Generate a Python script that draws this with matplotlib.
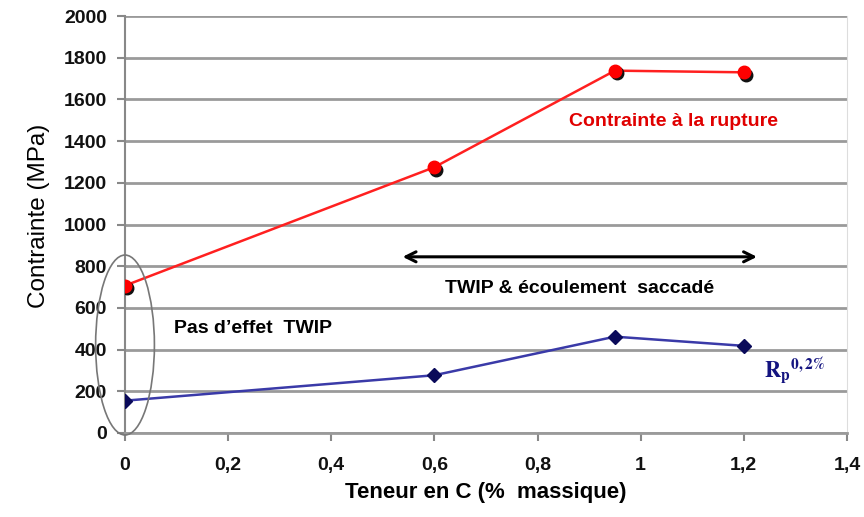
import matplotlib
matplotlib.use("Agg")
import matplotlib.pyplot as plt
from matplotlib.patches import Ellipse
import matplotlib.ticker as mticker

plt.rcParams['font.family'] = ['Liberation Sans', 'DejaVu Sans']

carbon = [0, 0.6, 0.95, 1.2]
rupture = [707, 1275, 1738, 1730]
rp02 = [155, 277, 462, 418]
xticks = [0, 0.2, 0.4, 0.6, 0.8, 1.0, 1.2, 1.4]
yticks = list(range(0, 2001, 200))

fig = plt.figure(figsize=(8.64, 5.17), dpi=100)
ax = fig.add_axes([0.1447, 0.1625, 0.8355, 0.8065])

ax.set_xlim(0, 1.4)
ax.set_ylim(0, 2000)
ax.set_yticks(yticks)
ax.set_xticks(xticks)
ax.xaxis.set_major_formatter(mticker.FuncFormatter(lambda v, p: ('%g' % round(v, 1)).replace('.', ',')))
ax.grid(axis='y', color='#9a9a9a', lw=2.0)
ax.set_axisbelow(True)
ax.spines['top'].set_visible(False)
ax.spines['right'].set_color('#dddddd')
ax.spines['left'].set_color('#888888')
ax.spines['left'].set_linewidth(1.5)
ax.spines['bottom'].set_color('#9a9a9a')
ax.spines['bottom'].set_linewidth(2.0)
ax.tick_params(axis='both', colors='#888888', labelcolor='#111111', labelsize=14, length=6, width=1.5)
ax.tick_params(axis='y', pad=7)
ax.tick_params(axis='x', pad=11)
for lab in ax.get_xticklabels() + ax.get_yticklabels():
    lab.set_fontweight('bold')

# red series with shadowed markers
ax.plot(carbon, rupture, color='#ff2020', lw=1.8, zorder=3)
ax.plot([c + 0.004 for c in carbon], [r - 12 for r in rupture], 'o', color='#111111', ms=9, zorder=4)
ax.plot(carbon, rupture, 'o', color='#ff0000', ms=9, zorder=5)

# blue series
ax.plot(carbon, rp02, color='#3a3aa8', lw=1.8, zorder=3)
ax.plot(carbon, rp02, 'D', color='#0a0a5a', ms=7, zorder=5)

# ellipse
ax.add_patch(Ellipse((0, 422), 0.114, 863, fill=False, ec='#777777', lw=1.2, zorder=6, clip_on=False))

# arrow
ax.annotate('', xy=(1.231, 845), xytext=(0.533, 845),
            arrowprops=dict(arrowstyle='<->', color='black', lw=2.2, mutation_scale=18))

ax.text(0.882, 695, 'TWIP & écoulement  saccadé', ha='center', va='center', fontsize=14, fontweight='bold')
ax.text(0.095, 503, 'Pas d\u2019effet  TWIP', ha='left', va='center', fontsize=14, fontweight='bold')
ax.text(1.063, 1496, 'Contrainte à la rupture', ha='center', va='center', fontsize=14, fontweight='bold', color='#e00000')
ax.text(1.24, 300, r'$\mathbf{R_p}^{\mathbf{0,2\%}}$', ha='left', va='center', fontsize=16,
        color='#141480', math_fontfamily='stix')

ax.set_xlabel('Teneur en C (%  massique)', fontsize=16, fontweight='bold', labelpad=6)
ax.set_ylabel('Contrainte (MPa)', fontsize=17.5, labelpad=9)
ax.yaxis.set_label_coords(-0.104, 0.52)

fig.savefig('out.png', dpi=100)
